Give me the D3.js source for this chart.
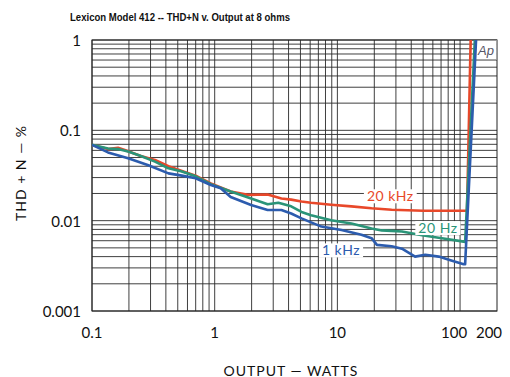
<!DOCTYPE html>
<html>
<head>
<meta charset="utf-8">
<script src="https://cdn.jsdelivr.net/npm/d3@7"></script>
<style>
  html, body { margin: 0; padding: 0; background: #fff; }
  svg { display: block; }
</style>
</head>
<body>
<svg id="chart" width="510" height="377"></svg>
<script>
// ---- data ----
const title = "Lexicon Model 412 -- THD+N v. Output at 8 ohms";
const xTickLabels = [0.1, 1, 10, 100, 200];
const yTickLabels = [1, 0.1, 0.01, 0.001];

const w20k = [0.1,0.135,0.163,0.185,0.25,0.326,0.42,0.54,0.70,0.93,1.35,1.86,2.7,3.5,4.2,5.1,6.1,8.9,13,19,27.7,50,114,122];
const v20k = [0.069,0.062,0.064,0.0606,0.052,0.047,0.040,0.0355,0.0315,0.0259,0.021,0.0193,0.0195,0.0176,0.0171,0.0163,0.0158,0.015,0.0144,0.0137,0.0132,0.0129,0.0129,1];

const w20 = [0.1,0.135,0.163,0.2,0.25,0.326,0.42,0.54,0.7,0.93,1.35,1.98,2.7,3.3,4.2,5.1,6.1,8.9,13,19,23,27.7,33.6,49,71,104,110,132];
const v20 = [0.069,0.063,0.062,0.058,0.052,0.045,0.038,0.035,0.031,0.0253,0.021,0.0176,0.0152,0.0158,0.0144,0.0125,0.0115,0.0101,0.0093,0.0082,0.0078,0.0077,0.0076,0.0069,0.0064,0.0059,0.0058,1];

const w1k = [0.1,0.135,0.197,0.288,0.42,0.54,0.7,0.93,1.12,1.35,1.98,2.7,3.5,4.2,5.1,7.4,10.8,15.7,19,21,27.7,33.6,43,52,67,86,107,110,135];
const v1k = [0.069,0.057,0.049,0.041,0.0334,0.0315,0.0295,0.0248,0.0228,0.0183,0.0149,0.0131,0.0131,0.012,0.0106,0.0086,0.0079,0.007,0.0064,0.0054,0.0052,0.0049,0.0040,0.0042,0.0040,0.0036,0.0033,0.0033,1];

const seriesNames = ["20 kHz", "20 Hz", "1 kHz"];
const seriesColors = ["#e8482a", "#2a9478", "#2c5cae"];

// ---- layout ----
const svg = d3.select("#chart");
const L = 92, R = 497, T = 40, B = 311;
const x = d3.scaleLog().domain([0.1, 200]).range([L, R]);
const y = d3.scaleLog().domain([0.001, 1]).range([B, T]);

svg.append("rect").attr("width", 510).attr("height", 377).attr("fill", "#fff");

// grid
const xGrid = [];
for (let k = -1; k <= 1; k++) for (let m = 1; m <= 9; m++) xGrid.push(+(m * Math.pow(10, k)).toPrecision(3));
xGrid.push(100);
const yGrid = [];
for (let k = -3; k <= -1; k++) for (let m = 1; m <= 9; m++) yGrid.push(+(m * Math.pow(10, k)).toPrecision(3));
yGrid.push(1);

const g = svg.append("g");
g.selectAll("line.vx").data(xGrid).enter().append("line")
  .attr("x1", d => x(d)).attr("x2", d => x(d)).attr("y1", T).attr("y2", B)
  .attr("stroke", "#2a2a2a").attr("stroke-width", 0.9);
g.selectAll("line.hy").data(yGrid).enter().append("line")
  .attr("x1", L).attr("x2", R).attr("y1", d => y(d)).attr("y2", d => y(d))
  .attr("stroke", "#2a2a2a").attr("stroke-width", 0.9);
g.append("rect").attr("x", L).attr("y", T).attr("width", R - L).attr("height", B - T)
  .attr("fill", "none").attr("stroke", "#222").attr("stroke-width", 1);

// Ap logo box
svg.append("rect").attr("x", 475).attr("y", T + 0.5).attr("width", R - 475 - 0.5).attr("height", 19)
  .attr("fill", "#fff").attr("stroke", "#999").attr("stroke-width", 0.8);
svg.append("text").attr("x", 478).attr("y", 55).text("Ap")
  .attr("font-family", "Liberation Sans, Arial, sans-serif").attr("font-style", "italic")
  .attr("font-size", 13).attr("fill", "#556");

// series label anchors
const labelDefs = [
  {name: seriesNames[0], color: seriesColors[0], w: 27, v: 0.0132, dy: -14},
  {name: seriesNames[1], color: seriesColors[1], w: 66, v: 0.0065, dy: -10},
  {name: seriesNames[2], color: seriesColors[2], w: 10.7, v: 0.0079, dy: 20}
];

// lines
svg.append("clipPath").attr("id", "clip").append("rect")
  .attr("x", L).attr("y", T).attr("width", R - L).attr("height", B - T);
const line = d3.line().x(d => x(d[0])).y(d => y(d[1]));
const series = [
  {w: w20k, v: v20k, c: seriesColors[0]},
  {w: w20, v: v20, c: seriesColors[1]},
  {w: w1k, v: v1k, c: seriesColors[2]}
];
const lg = svg.append("g").attr("clip-path", "url(#clip)");
series.forEach(s => {
  lg.append("path").datum(s.w.map((w, i) => [w, s.v[i]]))
    .attr("d", line).attr("fill", "none").attr("stroke", s.c)
    .attr("stroke-width", 2.6).attr("stroke-linejoin", "round");
});

const fontLab = "Lato, 'Open Sans', sans-serif";
labelDefs.forEach(d => {
  const t = svg.append("text").attr("x", x(d.w)).attr("y", y(d.v) + d.dy)
    .attr("text-anchor", "middle").attr("dominant-baseline", "central")
    .attr("font-family", fontLab).attr("font-size", 14).attr("fill", d.color)
    .attr("letter-spacing", 0.5).text(d.name);
  const bb = t.node().getBBox();
  svg.insert("rect", () => t.node()).attr("x", bb.x - 3).attr("y", bb.y + 2)
    .attr("width", bb.width + 6).attr("height", bb.height - 3).attr("fill", "#fff");
});

// title
svg.append("text").attr("x", 70).attr("y", 21).text(title)
  .attr("font-family", "Liberation Sans, Arial, sans-serif").attr("font-weight", "bold")
  .attr("font-size", 10).attr("textLength", 220).attr("lengthAdjust", "spacingAndGlyphs")
  .attr("fill", "#111");

// y tick labels
svg.selectAll("text.yt").data(yTickLabels).enter().append("text")
  .attr("x", L - 11).attr("y", d => y(d)).attr("text-anchor", "end")
  .attr("dominant-baseline", "central")
  .attr("font-family", fontLab).attr("font-size", 15).attr("fill", "#111")
  .text(d => String(d));

// x tick labels
const xShift = {0.1: 0, 1: 0, 10: 0, 100: -6, 200: -8};
svg.selectAll("text.xt").data(xTickLabels).enter().append("text")
  .attr("x", d => x(d) + xShift[d]).attr("y", 332).attr("text-anchor", "middle")
  .attr("dominant-baseline", "central")
  .attr("font-family", fontLab).attr("font-size", 15).attr("fill", "#111")
  .text(d => String(d));

// axis titles
svg.append("text").attr("x", 291).attr("y", 370).attr("text-anchor", "middle")
  .attr("dominant-baseline", "central")
  .attr("font-family", fontLab).attr("font-size", 14).attr("letter-spacing", 1)
  .attr("fill", "#111").text("OUTPUT — WATTS");
svg.append("text").attr("transform", "translate(20,173) rotate(-90)")
  .attr("text-anchor", "middle").attr("dominant-baseline", "central")
  .attr("font-family", fontLab).attr("font-size", 14).attr("letter-spacing", 1)
  .attr("fill", "#111").text("THD + N — %");
</script>
</body>
</html>
